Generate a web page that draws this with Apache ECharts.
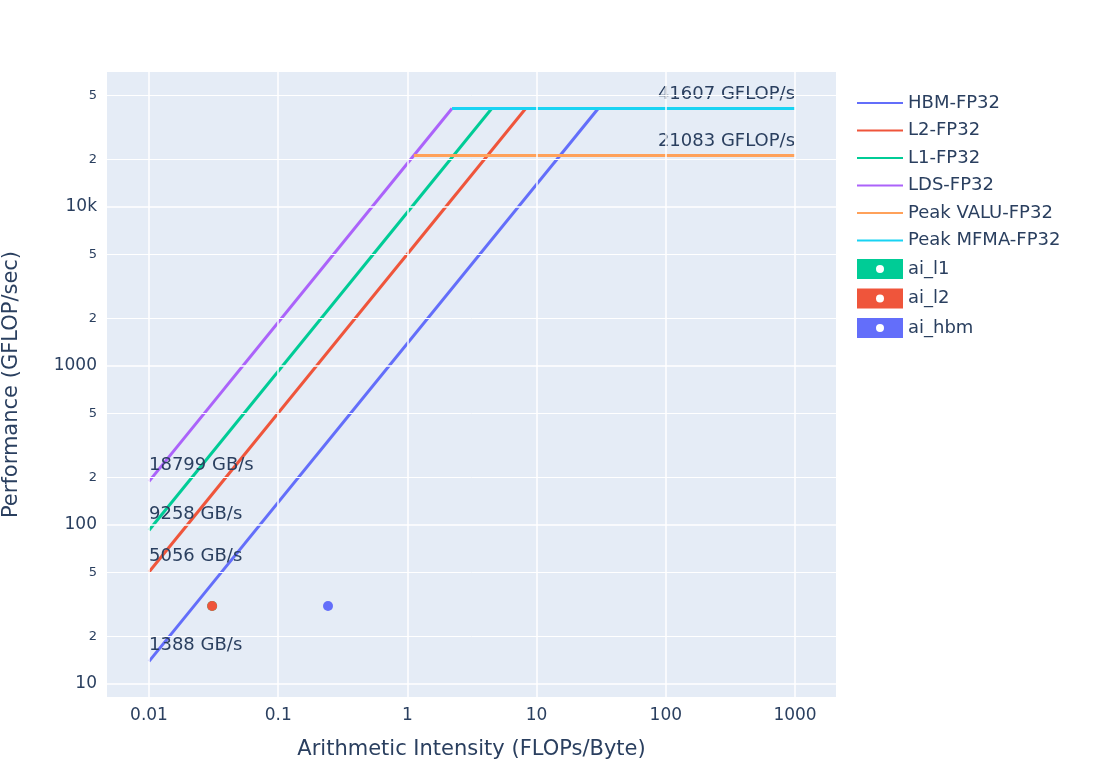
<!DOCTYPE html>
<html lang="en">
<head>
<meta charset="UTF-8">
<title>Roofline</title>
<script src="https://cdn.jsdelivr.net/npm/echarts@6/dist/echarts.min.js"></script>
<style>body{margin:0;background:#fff}</style>
</head>
<body>
<div id="main" style="width:1094px;height:782px;"></div>
<script>
// roofline data (real units, plotted on log10 scales)
var bwNames = ['HBM-FP32', 'L2-FP32', 'L1-FP32', 'LDS-FP32'];
var bwValues = [1388, 5056, 9258, 18799];          // GB/s
var bwColors = ['#636efa', '#EF553B', '#00cc96', '#ab63fa'];
var peakNames = ['Peak VALU-FP32', 'Peak MFMA-FP32'];
var peakValues = [21083, 41607];                     // GFLOP/s
var peakColors = ['#FFA15A', '#19d3f3'];
var aiStart = 0.01, aiEnd = 1000;
var pointNames = ['ai_l1', 'ai_l2', 'ai_hbm'];
var pointX = [0.0308, 0.0308, 0.243];
var pointY = [30.9, 30.9, 30.9];
var pointColors = ['#00cc96', '#EF553B', '#636efa'];
var xTicks = [0.01, 0.1, 1, 10, 100, 1000];
var xTickText = ['0.01', '0.1', '1', '10', '100', '1000'];
var yMajor = [10, 100, 1000, 10000];
var yMajorText = ['10', '100', '1000', '10k'];
var yMinor = [20, 50, 200, 500, 2000, 5000, 20000, 50000];
var yMinorText = ['2', '5', '2', '5', '2', '5', '2', '5'];

var L = Math.log10;
var txt = '#2a3f5f';
var peakMax = Math.max.apply(null, peakValues);
var series = [];

var gridLines = [];
xTicks.forEach(function (v, i) {
  gridLines.push({xAxis: L(v), lineStyle: {width: 1.5},
    label: {formatter: xTickText[i], position: 'start', distance: 10, fontSize: 17, color: txt}});
});
yMajor.forEach(function (v, i) {
  gridLines.push({yAxis: L(v), lineStyle: {width: 1.5},
    label: {formatter: yMajorText[i], position: 'start', distance: 10, fontSize: 17, color: txt}});
});
yMinor.forEach(function (v, i) {
  gridLines.push({yAxis: L(v), lineStyle: {width: 1},
    label: {formatter: yMinorText[i], position: 'start', distance: 10, fontSize: 13, color: txt}});
});
series.push({type: 'line', data: [], silent: true, z: 0,
  markLine: {symbol: 'none', silent: true, animation: false,
    lineStyle: {color: '#fff', type: 'solid'}, data: gridLines}});

bwNames.forEach(function (n, i) {
  var knee = peakMax / bwValues[i];
  series.push({name: n, type: 'line', color: bwColors[i], symbol: 'circle', symbolSize: 0.1, showSymbol: true,
    lineStyle: {width: 3},
    data: [
      {value: [L(aiStart), L(bwValues[i] * aiStart)],
        label: {show: true, position: 'top', align: 'left', offset: [0, -2], fontSize: 18, color: txt,
          formatter: bwValues[i] + ' GB/s'}},
      [L(knee), L(peakMax)]
    ]});
});
var lds = bwValues[bwValues.length - 1];
peakNames.forEach(function (n, i) {
  var start = peakValues[i] / lds;
  series.push({name: n, type: 'line', color: peakColors[i], symbol: 'circle', symbolSize: 0.1, showSymbol: true,
    lineStyle: {width: 3},
    data: [
      [L(start), L(peakValues[i])],
      {value: [L(aiEnd), L(peakValues[i])],
        label: {show: true, position: 'top', align: 'right', offset: [0, 0], fontSize: 18, color: txt,
          formatter: peakValues[i] + ' GFLOP/s'}}
    ]});
});
pointNames.forEach(function (n, i) {
  series.push({name: n, type: 'scatter', color: pointColors[i], symbolSize: 10,
    itemStyle: {opacity: 1}, data: [[L(pointX[i]), L(pointY[i])]]});
});

var chart = echarts.init(document.getElementById('main'));
chart.setOption({
  animation: false,
  textStyle: {fontFamily: 'DejaVu Sans'},
  grid: {left: 107, right: 258, top: 72, bottom: 85, show: true, backgroundColor: '#E5ECF6', borderWidth: 0,
    outerBoundsMode: 'none', containLabel: false},
  legend: {
    orient: 'vertical', left: 852, top: 89, itemGap: 9.5, itemWidth: 46, itemHeight: 20,
    textStyle: {fontSize: 18, color: txt},
    data: bwNames.concat(peakNames).map(function (n) { return {name: n, icon: 'path://M0,9 L46,9 L46,11 L0,11 Z'}; })
      .concat(pointNames.map(function (n) {
        return {name: n, icon: 'path://M0,0 L46,0 L46,20 L0,20 Z M19,10 A4,4 0 1 0 27,10 A4,4 0 1 0 19,10 Z',
          itemStyle: {opacity: 1}};
      }))
  },
  xAxis: {type: 'value', min: -2.325, max: 3.317,
    axisLabel: {show: false}, axisTick: {show: false}, axisLine: {show: false}, splitLine: {show: false},
    name: 'Arithmetic Intensity (FLOPs/Byte)', nameLocation: 'middle', nameGap: 42,
    nameTextStyle: {fontSize: 21, color: txt}},
  yAxis: {type: 'value', min: 0.918, max: 4.849,
    axisLabel: {show: false}, axisTick: {show: false}, axisLine: {show: false}, splitLine: {show: false},
    name: 'Performance (GFLOP/sec)', nameLocation: 'middle', nameGap: 85,
    nameTextStyle: {fontSize: 21, color: txt}},
  series: series
});
</script>
</body>
</html>
